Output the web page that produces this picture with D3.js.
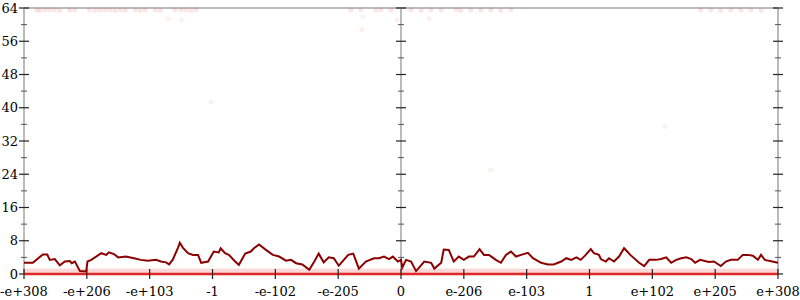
<!DOCTYPE html>
<html>
<head>
<meta charset="utf-8">
<script src="https://cdn.jsdelivr.net/npm/d3@7"></script>
<style>
  body { margin: 0; background: #fff; }
  text { font-family: "DejaVu Serif", serif; font-size: 13px; fill: #000; }
</style>
</head>
<body>
<script>
// x ticks: one per position -6..6 (bit-pattern octants of a double)
var tickLabels = ["-e+308", "-e+206", "-e+103", "-1", "-e-102", "-e-205", "0",
                  "e-206", "e-103", "1", "e+102", "e+205", "e+308"];
var yTicks = [0, 8, 16, 24, 32, 40, 48, 56, 64];

// running line, [x, value]
var lineX = [-6.00,-5.86,-5.70,-5.63,-5.59,-5.51,-5.43,-5.35,-5.27,-5.24,-5.19,-5.11,-5.01,-4.99,-4.93,
  -4.77,-4.69,-4.65,-4.57,-4.50,-4.38,-4.25,-4.14,-4.03,-3.90,-3.82,-3.74,-3.69,-3.63,-3.55,-3.52,-3.47,
  -3.39,-3.31,-3.23,-3.18,-3.07,-2.98,-2.90,-2.87,-2.80,-2.74,-2.64,-2.58,-2.48,-2.39,-2.34,-2.26,-2.15,
  -2.04,-1.94,-1.83,-1.75,-1.67,-1.57,-1.46,-1.38,-1.31,-1.23,-1.15,-1.07,-0.99,-0.84,-0.76,-0.67,-0.56,
  -0.43,-0.35,-0.27,-0.19,-0.13,-0.05,0.00,0.02,0.08,0.16,0.24,0.37,0.48,0.53,0.64,0.68,0.76,0.84,0.92,
  1.00,1.08,1.16,1.25,1.32,1.40,1.51,1.59,1.67,1.75,1.83,1.91,2.02,2.10,2.23,2.34,2.43,2.55,2.63,2.71,
  2.79,2.86,2.94,3.02,3.07,3.15,3.18,3.26,3.31,3.39,3.47,3.55,3.60,3.65,3.79,3.87,3.95,4.06,4.14,4.22,
  4.30,4.38,4.46,4.54,4.62,4.68,4.76,4.90,4.98,5.09,5.17,5.25,5.36,5.44,5.52,5.60,5.68,5.73,5.79,6.00];
var lineY = [2.7,2.7,4.7,4.7,3.4,3.6,2.1,3.0,3.1,2.6,3.0,0.7,0.6,3.0,3.4,
  5.0,4.6,5.2,4.8,4.0,4.2,3.8,3.4,3.2,3.4,3.0,2.8,2.3,3.5,6.3,7.5,6.3,
  5.0,4.6,4.6,2.7,3.0,5.4,5.2,6.2,5.0,4.6,3.0,2.2,4.9,5.4,6.2,7.1,5.8,
  4.6,4.2,3.2,3.4,2.6,2.3,1.0,3.0,4.9,2.8,4.0,3.8,2.0,4.6,4.9,1.3,3.0,
  3.8,3.8,4.2,3.6,4.2,3.0,3.4,1.5,3.4,3.0,0.7,3.0,2.7,1.3,2.7,5.9,5.8,3.0,4.2,
  3.4,4.2,4.2,6.0,4.6,4.6,3.4,2.7,4.6,5.4,4.2,4.6,5.1,3.8,2.7,2.3,2.3,3.0,
  3.8,3.4,4.0,3.4,4.6,6.0,5.0,4.6,3.6,3.0,3.8,3.0,4.2,6.2,5.4,4.6,2.7,1.9,
  3.4,3.4,3.6,4.0,2.7,3.4,3.8,4.0,3.6,2.7,3.4,2.9,3.0,1.9,3.0,3.4,3.4,4.6,4.6,4.4,3.4,4.6,3.4,2.7,3.2,3.2];

// faint samples near the top and scattered
var topX = [-5.80,-5.75,-5.67,-5.59,-5.51,-5.43,-5.27,-5.19,-4.96,-4.87,-4.79,-4.71,-4.63,-4.55,-4.47,
  -4.39,-4.23,-4.15,-4.07,-3.91,-3.83,-3.60,-3.50,-3.42,-3.34,-3.26,-0.80,-0.64,-0.40,-0.32,-0.16,
  0.16,0.32,0.48,0.64,0.88,0.95,1.11,1.27,1.43,1.59,1.75,4.77,4.93,5.09,5.25,5.41,5.57,5.73];
var topY = [63.6,63.4,63.6,63.5,63.6,63.4,63.6,63.5,63.6,63.4,63.6,63.5,63.6,63.4,63.6,
  63.5,63.6,63.4,63.6,63.5,63.4,63.6,63.5,63.6,63.4,63.6,63.5,63.6,63.4,63.6,63.5,
  63.6,63.4,63.6,63.5,63.6,63.4,63.6,63.5,63.6,63.4,63.6,63.5,63.6,63.4,63.6,63.5,63.6,63.4];
var strayX = [-3.70, -3.49, -0.61, -0.62, -0.06, 0.45, -3.02, 1.43, 4.20];
var strayY = [61.4, 61.1, 61.9, 58.8, 61.2, 61.4, 41.4, 25.0, 35.5];

// dense band of samples at the bottom
var bandLow = 0.2, bandHigh = 1.3;

var width = 800, height = 300;
var margin = {left: 24, top: 8, right: 22, bottom: 26};

var xScale = d3.scaleLinear().domain([-6, 6]).range([margin.left, width - margin.right]);
var yScale = d3.scaleLinear().domain([0, 64]).range([height - margin.bottom, margin.top]);

var svg = d3.select("body").append("svg").attr("width", width).attr("height", height);

// grey frame lines: top, left, middle, right
var grey = "#bbb";
svg.append("line")
    .attr("x1", xScale(-6)).attr("x2", xScale(6))
    .attr("y1", yScale(64)).attr("y2", yScale(64))
    .attr("stroke", grey).attr("stroke-width", 2);
[-6, 0, 6].forEach(function (v) {
  svg.append("line")
      .attr("x1", xScale(v)).attr("x2", xScale(v))
      .attr("y1", yScale(0)).attr("y2", yScale(64))
      .attr("stroke", grey).attr("stroke-width", 2);
});

// y ticks on each vertical axis
var minorTicks = d3.range(4, 64, 8);
[-6, 0, 6].forEach(function (v) {
  var g = svg.append("g").attr("transform", "translate(" + xScale(v) + ",0)");
  g.selectAll(".maj").data(yTicks).enter().append("line")
      .attr("x1", -5).attr("x2", 5)
      .attr("y1", d => yScale(d)).attr("y2", d => yScale(d))
      .attr("stroke", "#222").attr("stroke-width", 1.2);
  g.selectAll(".min").data(minorTicks).enter().append("line")
      .attr("x1", -3).attr("x2", 3)
      .attr("y1", d => yScale(d)).attr("y2", d => yScale(d))
      .attr("stroke", "#555").attr("stroke-width", 1);
});

// y labels on the left
svg.selectAll(".ylab").data(yTicks).enter().append("text")
    .attr("x", margin.left - 6)
    .attr("y", d => yScale(d))
    .attr("dy", "0.35em")
    .style("text-anchor", "end")
    .text(d => d);

// pink band of samples near zero
svg.append("rect")
    .attr("x", xScale(-6)).attr("width", xScale(6) - xScale(-6))
    .attr("y", yScale(bandHigh)).attr("height", yScale(bandLow) - yScale(bandHigh))
    .attr("fill", "#f04848").attr("opacity", 0.22);

// faint top samples
svg.selectAll(".top").data(topX).enter().append("circle")
    .attr("cx", d => xScale(d))
    .attr("cy", (d, i) => yScale(topY[i]))
    .attr("r", 2.5)
    .attr("fill", "#e03030").attr("opacity", 0.12);
svg.selectAll(".stray").data(strayX).enter().append("circle")
    .attr("cx", d => xScale(d))
    .attr("cy", (d, i) => yScale(strayY[i]))
    .attr("r", 2.5)
    .attr("fill", "#e03030").attr("opacity", 0.07);

// solid line of samples at zero
svg.append("line")
    .attr("x1", xScale(-6)).attr("x2", xScale(6))
    .attr("y1", yScale(0)).attr("y2", yScale(0))
    .attr("stroke", "#e02828").attr("stroke-width", 2.5);

// x ticks and labels
var xTicks = d3.range(-6, 7);
svg.selectAll(".xt").data(xTicks).enter().append("line")
    .attr("x1", d => xScale(d)).attr("x2", d => xScale(d))
    .attr("y1", yScale(0) - 5).attr("y2", yScale(0) + 5)
    .attr("stroke", "#222").attr("stroke-width", 1.2);
svg.selectAll(".xlab").data(xTicks).enter().append("text")
    .attr("x", d => xScale(d))
    .attr("y", yScale(0) + 22)
    .style("text-anchor", "middle")
    .text((d, i) => tickLabels[i]);

// running line
var line = d3.line()
    .x((d, i) => xScale(d))
    .y((d, i) => yScale(lineY[i]))
    .curve(d3.curveLinear);
svg.append("path")
    .attr("d", line(lineX))
    .attr("fill", "none")
    .attr("stroke", "#8b0000")
    .attr("stroke-width", 2);
</script>
</body>
</html>
